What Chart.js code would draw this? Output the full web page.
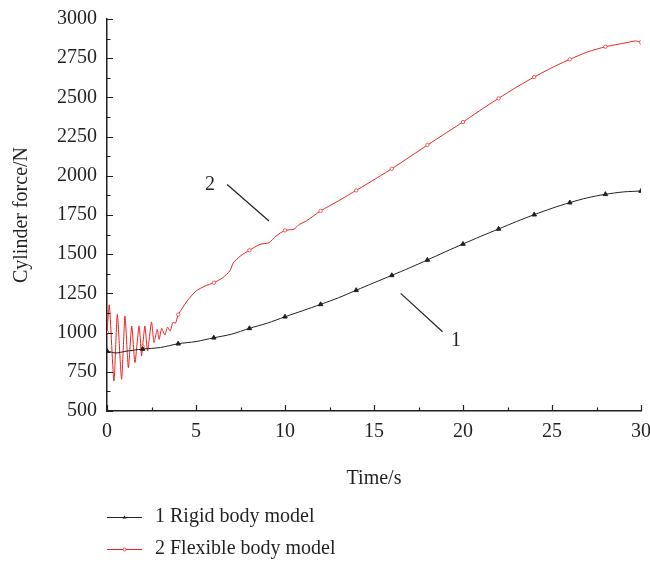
<!DOCTYPE html>
<html>
<head>
<meta charset="utf-8">
<script src="https://cdn.jsdelivr.net/npm/chart.js@4.4.1/dist/chart.umd.min.js"></script>
<style>
    html, body { margin: 0; padding: 0; background: #fff; }
    #wrap { position: relative; width: 650px; height: 564px; }
</style>
</head>
<body>
<div id="wrap"><canvas id="forceChart"></canvas></div>
<script>
// Rigid body model (curve 1)
const rigidTime = [0, 0.5, 1, 1.5, 2, 3, 4, 5, 6, 7, 8, 9, 10, 11, 12, 13, 14, 15, 16, 17, 18, 19, 20, 21, 22, 23, 24, 25, 26, 27, 28, 29, 30];
const rigidForce = [883, 870, 880, 888, 895, 905, 929, 943, 967, 990, 1027, 1060, 1101, 1140, 1180, 1222, 1270, 1318, 1365, 1413, 1463, 1515, 1565, 1614, 1661, 1708, 1752, 1793, 1829, 1860, 1882, 1897, 1903];

// Flexible body model (curve 2)
const flexTime = [0, 0.13, 0.39, 0.58, 0.82, 1.01, 1.2, 1.39, 1.57, 1.8, 1.94, 2, 2.13, 2.28, 2.5, 2.64, 2.82, 2.93, 3.07, 3.25, 3.4, 3.55, 3.7, 3.85, 4, 4.2, 4.5, 5, 5.5, 6, 6.5, 6.9, 7.1, 7.5, 8, 8.6, 9.1, 9.5, 10, 10.5, 10.8, 11.2, 12, 13, 14, 15, 16, 17, 18, 19, 20, 21, 22, 23, 24, 25, 26, 27, 28, 29, 29.7, 30];
const flexForce = [1000, 1176, 691, 1117, 702, 1106, 776, 1042, 808, 1042, 851, 910, 1042, 883, 1068, 936, 1021, 957, 1027, 985, 1035, 1010, 1065, 1060, 1115, 1150, 1202, 1265, 1297, 1318, 1350, 1393, 1446, 1489, 1525, 1563, 1573, 1616, 1652, 1659, 1690, 1712, 1776, 1840, 1907, 1975, 2045, 2120, 2196, 2270, 2343, 2420, 2494, 2565, 2630, 2690, 2743, 2790, 2823, 2845, 2860, 2851];

const seriesNames = ['1 Rigid body model', '2 Flexible body model'];
const xTitle = 'Time/s';
const yTitle = 'Cylinder force/N';

const FONT = "'Liberation Serif', 'Times New Roman', serif";
const INK = '#231f20';
const RED = '#e8231e';

const toPoints = (xs, ys) => xs.map((x, i) => ({ x: x, y: ys[i] }));
// markers only every 2 s
const markerAt = (size) => (c) => (c.raw && Number.isInteger(c.raw.x) && c.raw.x % 2 === 0) ? size : 0;

// inward tick marks with minor ticks
const tickMarks = {
    id: 'tickMarks',
    afterDraw(chart) {
        const { ctx, chartArea: a, scales: { x, y } } = chart;
        ctx.save();
        ctx.strokeStyle = INK;
        ctx.lineWidth = 1.2;
        ctx.beginPath();
        x.ticks.forEach((t, i) => {
            const px = Math.round(x.getPixelForValue(t.value)) + 0.5;
            ctx.moveTo(px, a.bottom); ctx.lineTo(px, a.bottom - 6);
            if (i < x.ticks.length - 1) {
                const m = Math.round(x.getPixelForValue(t.value + 2.5)) + 0.5;
                ctx.moveTo(m, a.bottom); ctx.lineTo(m, a.bottom - 3.5);
            }
        });
        y.ticks.forEach((t, i) => {
            const py = Math.round(y.getPixelForValue(t.value)) + 0.5;
            ctx.moveTo(a.left, py); ctx.lineTo(a.left + 6, py);
            if (i < y.ticks.length - 1) {
                const m = Math.round(y.getPixelForValue(t.value + 125)) + 0.5;
                ctx.moveTo(a.left, m); ctx.lineTo(a.left + 3.5, m);
            }
        });
        ctx.stroke();
        ctx.restore();
    }
};

// "1" / "2" callouts with leader lines, placed in data units
const callouts = {
    id: 'callouts',
    afterDatasetsDraw(chart) {
        const { ctx, scales: { x, y } } = chart;
        const items = [
            { text: '2', at: [5.79, 1940], from: [6.75, 1945], to: [9.1, 1712] },
            { text: '1', at: [19.6, 945], from: [16.5, 1250], to: [18.85, 1005] }
        ];
        ctx.save();
        ctx.strokeStyle = INK;
        ctx.lineWidth = 1.2;
        ctx.fillStyle = INK;
        ctx.font = '20px ' + FONT;
        ctx.textAlign = 'center';
        ctx.textBaseline = 'middle';
        items.forEach(it => {
            ctx.beginPath();
            ctx.moveTo(x.getPixelForValue(it.from[0]), y.getPixelForValue(it.from[1]));
            ctx.lineTo(x.getPixelForValue(it.to[0]), y.getPixelForValue(it.to[1]));
            ctx.stroke();
            ctx.fillText(it.text, x.getPixelForValue(it.at[0]), y.getPixelForValue(it.at[1]));
        });
        ctx.restore();
    }
};

// legend stacked under the axis title
const stackedLegend = {
    id: 'stackedLegend',
    afterDraw(chart) {
        const { ctx } = chart;
        ctx.save();
        ctx.font = '20px ' + FONT;
        ctx.textBaseline = 'middle';
        ctx.textAlign = 'left';
        chart.data.datasets.forEach((ds, i) => {
            const y = 517 + i * 32;
            ctx.strokeStyle = ds.borderColor;
            ctx.lineWidth = 1.2;
            ctx.beginPath();
            ctx.moveTo(107, y + 0.5); ctx.lineTo(142, y + 0.5);
            ctx.stroke();
            // tiny marker in the middle of the sample
            ctx.beginPath();
            if (ds.pointStyle === 'triangle') {
                ctx.fillStyle = ds.borderColor;
                ctx.moveTo(124.5, y - 1.5); ctx.lineTo(126.5, y + 1.5); ctx.lineTo(122.5, y + 1.5);
                ctx.closePath(); ctx.fill();
            } else {
                ctx.fillStyle = '#fff';
                ctx.lineWidth = 0.8;
                ctx.arc(124.5, y + 0.5, 1.5, 0, Math.PI * 2);
                ctx.fill(); ctx.stroke();
            }
            ctx.fillStyle = INK;
            ctx.fillText(ds.label, 155, y);
        });
        ctx.restore();
    }
};

const ctx = document.getElementById('forceChart').getContext('2d');
new Chart(ctx, {
    type: 'line',
    data: {
        datasets: [
            {
                label: seriesNames[0],
                data: toPoints(rigidTime, rigidForce),
                borderColor: INK,
                backgroundColor: INK,
                borderWidth: 1,
                pointStyle: 'triangle',
                pointRadius: markerAt(2.6),
                pointBorderWidth: 1,
                tension: 0.3
            },
            {
                label: seriesNames[1],
                data: toPoints(flexTime, flexForce),
                borderColor: RED,
                backgroundColor: '#fff',
                borderWidth: 1,
                pointStyle: 'circle',
                pointRadius: markerAt(1.7),
                pointBorderWidth: 0.7,
                tension: 0.2
            }
        ]
    },
    options: {
        responsive: true,
        maintainAspectRatio: false,
        animation: false,
        layout: { padding: { top: 19, right: 9, bottom: 73, left: 0 } },
        plugins: { legend: { display: false }, tooltip: { enabled: false } },
        scales: {
            x: {
                type: 'linear',
                min: 0, max: 30,
                ticks: { stepSize: 5, padding: 9, color: INK, font: { family: FONT, size: 20 }, format: { useGrouping: false } },
                grid: { display: false, drawTicks: false },
                border: { display: true, color: INK, width: 1.5 },
                title: { display: true, text: xTitle, color: INK, font: { family: FONT, size: 20 }, padding: { top: 0, bottom: 0 } },
                afterFit: (s) => { s.height = 80; s.paddingRight = 0; s.paddingLeft = 0; }
            },
            y: {
                min: 500, max: 3000,
                ticks: { stepSize: 250, padding: 10, color: INK, font: { family: FONT, size: 20 }, format: { useGrouping: false } },
                grid: { display: false, drawTicks: false },
                border: { display: true, color: INK, width: 1.5 },
                title: { display: true, text: yTitle, color: INK, font: { family: FONT, size: 20 }, padding: { top: 10, bottom: 0 } },
                afterFit: (s) => { s.width = 107; s.paddingTop = 0; s.paddingBottom = 0; }
            }
        }
    },
    plugins: [tickMarks, callouts, stackedLegend]
});
</script>
</body>
</html>
